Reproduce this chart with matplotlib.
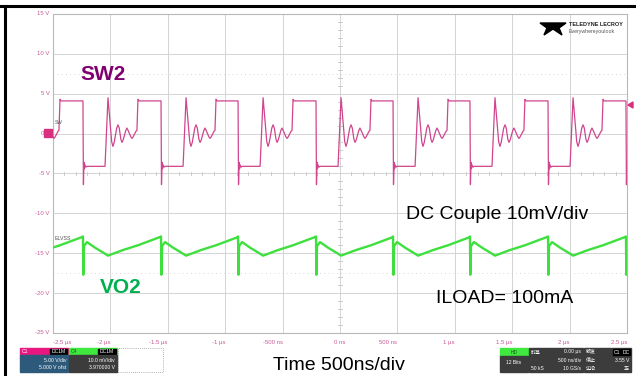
import matplotlib.pyplot as plt
from matplotlib.patches import Rectangle, Polygon
from matplotlib.transforms import blended_transform_factory

plt.rcParams['font.family'] = ['Liberation Sans', 'Noto Sans CJK SC', 'DejaVu Sans']

W, H = 636, 376

# falling edges of SW2 (start of each switching cycle), in µs
fall_times = [-2.918, -2.239, -1.559, -0.888, -0.209, 0.462, 1.132, 1.812, 2.491]

# SW2 shape after each falling edge: offset (ns) / level (V)
sw2_offset = [0, 4, 9, 13, 17, 26, 35, 192, 218,
              250, 261, 272, 294, 305, 316, 330, 340, 350,
              373, 383, 393, 417, 427, 437, 462, 470, 479, 488, 665]
sw2_volts = [4.1, -6.4, -3.6, -4.4, -3.9, -4.2, -4.1, -4.1, 4.5,
             -1.0, -1.6, -1.1, 0.7, 1.1, 0.7, -0.7, -1.1, -0.8,
             0.4, 0.7, 0.4, -0.4, -0.6, -0.4, 0.3, 0.4, 4.3, 4.1, 4.1]

# VO2 (screen position in V of the SW2 scale) after each falling edge
vo2_offset = [0, 3, 9, 35, 105, 174, 218, 348, 479, 665]
vo2_volts = [-12.9, -17.7, -14.1, -13.6, -14.3, -14.9, -15.3, -14.6, -14.0, -13.0]

y_ticks = [15, 10, 5, 0, -5, -10, -15, -20, -25]
y_labels = ['15 V', '10 V', '5 V', '0 V', '-5 V', '-10 V', '-15 V', '-20 V', '-25 V']
x_ticks = [-2.5, -2, -1.5, -1, -0.5, 0, 0.5, 1, 1.5, 2, 2.5]
x_labels = ['-2.5 µs', '-2 µs', '-1.5 µs', '-1 µs', '-500 ns', '0 ns',
            '500 ns', '1 µs', '1.5 µs', '2 µs', '2.5 µs']


def build(offsets, volts):
    t, v = [], []
    for f in fall_times:
        t += [f + o / 1000 for o in offsets]
        v += volts
    return t, v


def fx(x):
    return x / W


def fy(y):
    return 1 - y / H


fig = plt.figure(figsize=(W / 100, H / 100), dpi=100)
ax = fig.add_axes([fx(53), fy(333), 574 / W, 319 / H])
ax.set_xlim(-2.5, 2.5)
ax.set_ylim(-25, 15)

# grid
ax.set_xticks(x_ticks)
ax.set_yticks(y_ticks)
ax.tick_params(length=0, labelbottom=False, labelleft=False)
ax.grid(color='#d4d4d4', lw=0.7, zorder=0)
for s in ax.spines.values():
    s.set_color('#b8b8b8')
    s.set_linewidth(0.8)
for yy in [7.5, -17.5]:
    ax.axhline(yy, color='#c8c8c8', lw=0.6, ls=(0, (1, 4)), zorder=0)

# center axis minor ticks
for i in range(-25, 26):
    xx = i * 0.1
    ax.plot([xx, xx], [-5.25, -4.75], color='#b0b0b0', lw=0.5, zorder=1)
for i in range(-25, 16):
    ax.plot([-0.017, 0.017], [i, i], color='#b0b0b0', lw=0.5, zorder=1)

# traces
t1, v1 = build(sw2_offset, sw2_volts)
t4, v4 = build(vo2_offset, vo2_volts)
ax.plot(t1, v1, color='#d0458e', lw=0.9, zorder=3)
ax.plot(t4, v4, color='#3ee03e', lw=1.7, zorder=3)

# tick labels
tr_y = blended_transform_factory(ax.transAxes, ax.transData)
for yv, lab in zip(y_ticks, y_labels):
    ax.text(-0.006, yv, lab, transform=tr_y, ha='right', va='center',
            fontsize=4.3, color='#c85a96', clip_on=False)
tr_x = blended_transform_factory(ax.transData, ax.transAxes)
for i, (xv, lab) in enumerate(zip(x_ticks, x_labels)):
    ha = 'left' if i == 0 else ('center' if xv == 0 else 'right')
    ax.text(xv, -0.03, lab, transform=tr_x, ha=ha, va='center',
            fontsize=4.3, color='#c85a96', clip_on=False)

# channel markers
fig.add_artist(Rectangle((fx(44), fy(137)), 8 / W, 8 / H, color='#d8307e'))
fig.text(fx(55), fy(123), 'SW', fontsize=3.5, color='#555555', va='center')
fig.text(fx(55), fy(239), 'ELVSS', fontsize=3.8, color='#555555', va='center')
fig.add_artist(Polygon([(fx(628), fy(105)), (fx(633), fy(102)), (fx(633), fy(108))],
                       closed=True, color='#d8307e'))

# annotations
fig.text(fx(80), fy(80), 'SW2', fontsize=15, fontweight='bold', color='#800070', va='baseline')
fig.text(fx(100), fy(293), 'VO2', fontsize=15, fontweight='bold', color='#00b050', va='baseline')
fig.text(fx(406), fy(219), 'DC Couple 10mV/div', fontsize=14, color='black', va='baseline')
fig.text(fx(436), fy(303), 'ILOAD= 100mA', fontsize=14, color='black', va='baseline')
fig.text(fx(273), fy(370), 'Time 500ns/div', fontsize=14, color='black', va='baseline')

# logo
fig.add_artist(Polygon([(fx(540), fy(23)), (fx(566), fy(23)), (fx(559), fy(28)), (fx(562), fy(35)),
                        (fx(553), fy(29)), (fx(544), fy(35)), (fx(547), fy(28))],
                       closed=True, color='black'))
fig.text(fx(569), fy(25), 'TELEDYNE LECROY', fontsize=4, fontweight='bold', color='#222222', va='center')
fig.text(fx(569), fy(32), 'Everywhereyoulook', fontsize=3.8, color='#555555', va='center')

# frame
fig.add_artist(plt.Line2D([0, 1], [fy(6), fy(6)], color='black', lw=2.2))
fig.add_artist(plt.Line2D([fx(4.5), fx(4.5)], [0, fy(6)], color='black', lw=2.2))


# info boxes
def box(x0, y0, x1, y1, color, **kw):
    fig.add_artist(Rectangle((fx(x0), fy(y1)), (x1 - x0) / W, (y1 - y0) / H, color=color, **kw))


small = dict(fontsize=3.6, color='white', va='center')
box(20, 348, 68, 355, '#e8177f')
box(50, 349, 67, 354, 'black')
box(20, 355, 68, 372, '#2d5a7a')
fig.text(fx(22), fy(351.5), 'C1', **small)
fig.text(fx(58.5), fy(351.5), 'DC1M', ha='center', **small)
fig.text(fx(66), fy(360), '5.00 V/div', ha='right', **small)
fig.text(fx(66), fy(367.5), '5.000 V ofst', ha='right', **small)

box(69, 348, 117, 355, '#3ee83e')
box(98, 349, 116, 354, 'black')
box(69, 355, 117, 372, '#3c3c3c')
fig.text(fx(71), fy(351.5), 'C4', fontsize=3.6, color='#225522', va='center')
fig.text(fx(107), fy(351.5), 'DC1M', ha='center', **small)
fig.text(fx(115), fy(360), '10.0 mV/div', ha='right', **small)
fig.text(fx(115), fy(367.5), '3.970000 V', ha='right', **small)
fig.add_artist(Rectangle((fx(118), fy(372)), 45 / W, 24 / H, fill=False,
                         ec='#999999', lw=0.6, ls=(0, (1, 1.5))))

box(500, 348, 528, 356, '#3ee83e')
box(500, 356, 528, 372, '#3c3c3c')
fig.text(fx(514), fy(352), 'HD', fontsize=3.6, color='#225522', ha='center', va='center')
fig.text(fx(514), fy(363), '12 Bits', ha='center', **small)

box(529, 348, 583, 372, '#3c3c3c')
fig.text(fx(531), fy(352), '时基', **small)
fig.text(fx(581), fy(352), '0.00 µs', ha='right', **small)
fig.text(fx(581), fy(360), '500 ns/div', ha='right', **small)
fig.text(fx(531), fy(368), '50 kS', **small)
fig.text(fx(581), fy(368), '10 GS/s', ha='right', **small)

box(584, 348, 631, 372, '#3c3c3c')
box(613, 349, 621, 355, 'black')
box(622, 349, 630, 355, 'black')
fig.text(fx(586), fy(352), '触发', **small)
fig.text(fx(617), fy(352), 'C1', ha='center', **small)
fig.text(fx(626), fy(352), 'DC', ha='center', **small)
fig.text(fx(586), fy(360), '停止', **small)
fig.text(fx(629), fy(360), '3.55 V', ha='right', **small)
fig.text(fx(586), fy(368), '边沿', **small)
fig.text(fx(629), fy(368), '正', ha='right', **small)

fig.savefig('out.png', dpi=100)
